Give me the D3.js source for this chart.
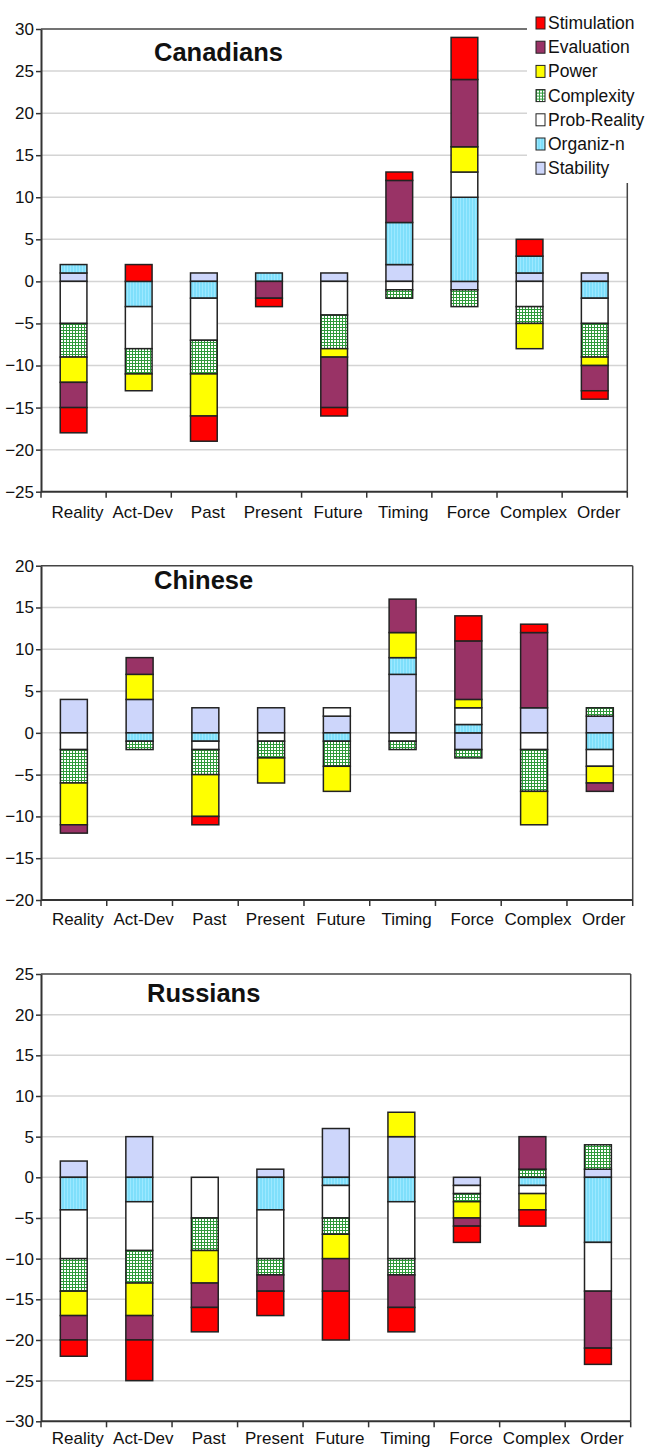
<!DOCTYPE html>
<html>
<head>
<meta charset="utf-8">
<script src="https://cdn.jsdelivr.net/npm/d3@7"></script>
<style>
  body { margin: 0; background: #fff; }
  svg { display: block; font-family: "Liberation Sans", Arial, sans-serif; }
</style>
</head>
<body>
<div id="chart"></div>
<script>
const categories = ["Reality", "Act-Dev", "Past", "Present", "Future", "Timing", "Force", "Complex", "Order"];

// stacking order, closest to zero first (legend lists them reversed)
const seriesNames = ["Stability", "Organiz-n", "Prob-Reality", "Complexity", "Power", "Evaluation", "Stimulation"];

const canadians = {
    "Stimulation":  [-3, 2, -3, -1, -1, 1, 5, 2, -1],
    "Evaluation":   [-3, 0, 0, -2, -6, 5, 8, 0, -3],
    "Power":        [-3, -2, -5, 0, -1, 0, 3, -3, -1],
    "Complexity":   [-4, -3, -4, 0, -4, -1, -2, -2, -4],
    "Prob-Reality": [-5, -5, -5, 0, -4, -1, 3, -3, -3],
    "Organiz-n":    [1, -3, -2, 1, 0, 5, 10, 2, -2],
    "Stability":    [1, 0, 1, 0, 1, 2, -1, 1, 1]
};

const chinese = {
    "Stimulation":  [0, 0, -1, 0, 0, 0, 3, 1, 0],
    "Evaluation":   [-1, 2, 0, 0, 0, 4, 7, 9, -1],
    "Power":        [-5, 3, -5, -3, -3, 3, 1, -4, -2],
    "Complexity":   [-4, -1, -3, -2, -3, -1, -1, -5, 1],
    "Prob-Reality": [-2, 0, -1, -1, 1, -1, 2, -2, -2],
    "Organiz-n":    [0, -1, -1, 0, -1, 2, 1, 0, -2],
    "Stability":    [4, 4, 3, 3, 2, 7, -2, 3, 2]
};

const russians = {
    "Stimulation":  [-2, -5, -3, -3, -6, -3, -2, -2, -2],
    "Evaluation":   [-3, -3, -3, -2, -4, -4, -1, 4, -7],
    "Power":        [-3, -4, -4, 0, -3, 3, -2, -2, 0],
    "Complexity":   [-4, -4, -4, -2, -2, -2, -1, 1, 3],
    "Prob-Reality": [-6, -6, -5, -6, -4, -7, -1, -1, -6],
    "Organiz-n":    [-4, -3, 0, -4, -1, -3, 0, -1, -8],
    "Stability":    [2, 5, 0, 1, 6, 5, -1, 0, 1]
};

const canTicks = [30, 25, 20, 15, 10, 5, 0, -5, -10, -15, -20, -25];
const chiTicks = [20, 15, 10, 5, 0, -5, -10, -15, -20];
const rusTicks = [25, 20, 15, 10, 5, 0, -5, -10, -15, -20, -25, -30];

const colors = {
    "Stimulation": "#ff0000",
    "Evaluation": "#993366",
    "Power": "#ffff00",
    "Complexity": "url(#complexity)",
    "Prob-Reality": "#ffffff",
    "Organiz-n": "url(#organiz)",
    "Stability": "#cdd6fb"
};

const svgWidth = 649;
const svgHeight = 1448;

const svg = d3.select("#chart")
    .append("svg")
    .attr("width", svgWidth)
    .attr("height", svgHeight);

const defs = svg.append("defs");

const cPat = defs.append("pattern")
    .attr("id", "complexity")
    .attr("patternUnits", "userSpaceOnUse")
    .attr("width", 3)
    .attr("height", 3);
cPat.append("rect").attr("width", 3).attr("height", 3).attr("fill", "#ffffff");
cPat.append("path")
    .attr("d", "M0 0.5H3M0.5 0V3")
    .attr("stroke", "#2f9a3a")
    .attr("stroke-width", 1);

const oPat = defs.append("pattern")
    .attr("id", "organiz")
    .attr("patternUnits", "userSpaceOnUse")
    .attr("width", 3)
    .attr("height", 3);
oPat.append("rect").attr("width", 3).attr("height", 3).attr("fill", "#7fdffb");
oPat.append("rect").attr("x", 1).attr("width", 1).attr("height", 3).attr("fill", "#9ce8ff");

const panels = [
    { title: "Canadians", data: canadians, ticks: canTicks, top: 29, bottom: 491.7, right: 627.3, titleX: 154, titleY: 61, labelDy: 26 },
    { title: "Chinese", data: chinese, ticks: chiTicks, top: 565.7, bottom: 900, right: 632.7, titleX: 154, titleY: 589, labelDy: 25 },
    { title: "Russians", data: russians, ticks: rusTicks, top: 974, bottom: 1421.3, right: 630.7, titleX: 147, titleY: 1002, labelDy: 22.5 }
];

const left = 41;

panels.forEach((p, pi) => {
    const g = svg.append("g");

    const x = d3.scaleBand()
        .domain(categories)
        .range([left, p.right])
        .padding(0);

    const y = d3.scaleLinear()
        .domain([d3.min(p.ticks), d3.max(p.ticks)])
        .range([p.bottom, p.top]);

    // gridlines
    g.append("g")
        .selectAll("line")
        .data(p.ticks.filter(t => t !== d3.max(p.ticks) && t !== d3.min(p.ticks)))
        .enter()
        .append("line")
        .attr("x1", left)
        .attr("x2", p.right)
        .attr("y1", d => y(d))
        .attr("y2", d => y(d))
        .attr("stroke", "#d4d4d4")
        .attr("stroke-width", 1.5);

    // frame top + right
    g.append("line")
        .attr("x1", left).attr("x2", p.right)
        .attr("y1", p.top).attr("y2", p.top)
        .attr("stroke", "#444").attr("stroke-width", 1.5);
    g.append("line")
        .attr("x1", p.right).attr("x2", p.right)
        .attr("y1", p.top).attr("y2", p.bottom)
        .attr("stroke", "#444").attr("stroke-width", 1.5);

    // stacked bars
    const rows = categories.map((c, i) => {
        const r = { cat: c };
        seriesNames.forEach(s => { r[s] = p.data[s][i]; });
        return r;
    });

    const stacked = d3.stack()
        .keys(seriesNames)
        .offset(d3.stackOffsetDiverging)(rows);

    const barW = x.bandwidth() * 0.41;

    g.append("g")
        .selectAll("g")
        .data(stacked)
        .enter()
        .append("g")
        .attr("fill", d => colors[d.key])
        .selectAll("rect")
        .data(d => d.filter(v => v[1] !== v[0]))
        .enter()
        .append("rect")
        .attr("x", d => x(d.data.cat) + (x.bandwidth() - barW) / 2)
        .attr("y", d => y(Math.max(d[0], d[1])))
        .attr("width", barW)
        .attr("height", d => Math.abs(y(d[0]) - y(d[1])))
        .attr("stroke", "#222")
        .attr("stroke-width", 1.5);

    // y axis
    const yAxis = g.append("g")
        .attr("transform", `translate(${left},0)`)
        .call(d3.axisLeft(y).tickValues(p.ticks).tickSize(5).tickSizeOuter(0).tickPadding(2).tickFormat(d3.format("d")));
    yAxis.select(".domain").attr("stroke", "#333").attr("stroke-width", 2);
    yAxis.selectAll(".tick line").attr("stroke", "#333").attr("stroke-width", 1.5);
    yAxis.selectAll(".tick text")
        .style("font-size", "17px")
        .attr("fill", "#111");

    // x axis: baseline, boundary ticks, labels
    g.append("line")
        .attr("x1", left).attr("x2", p.right)
        .attr("y1", p.bottom).attr("y2", p.bottom)
        .attr("stroke", "#333").attr("stroke-width", 2);

    const bounds = categories.map(c => x(c)).concat([p.right]);
    g.append("g")
        .selectAll("line")
        .data(bounds)
        .enter()
        .append("line")
        .attr("x1", d => d).attr("x2", d => d)
        .attr("y1", p.bottom).attr("y2", p.bottom + 6)
        .attr("stroke", "#333").attr("stroke-width", 1.5);

    g.append("g")
        .selectAll("text")
        .data(categories)
        .enter()
        .append("text")
        .attr("x", d => x(d) + x.bandwidth() / 2 + 4)
        .attr("y", p.bottom + p.labelDy)
        .attr("text-anchor", "middle")
        .style("font-size", "17px")
        .attr("fill", "#111")
        .text(d => d);

    // title
    g.append("text")
        .attr("x", p.titleX)
        .attr("y", p.titleY)
        .style("font-size", "25.5px")
        .style("font-weight", "bold")
        .attr("fill", "#111")
        .text(p.title);

    // legend only on first panel
    if (pi === 0) {
        const lg = svg.append("g");
        lg.append("rect")
            .attr("x", 527)
            .attr("y", 0)
            .attr("width", svgWidth - 527)
            .attr("height", 183)
            .attr("fill", "#fff");

        const items = seriesNames.slice().reverse();
        const row = lg.selectAll("g.item")
            .data(items)
            .enter()
            .append("g")
            .attr("class", "item")
            .attr("transform", (d, i) => `translate(536, ${23 + i * 24.2})`);

        row.append("rect")
            .attr("x", 0)
            .attr("y", -6)
            .attr("width", 9)
            .attr("height", 12)
            .attr("fill", d => colors[d])
            .attr("stroke", "#222")
            .attr("stroke-width", 1);

        row.append("text")
            .attr("x", 12)
            .attr("y", 6)
            .style("font-size", "17.5px")
            .attr("fill", "#111")
            .text(d => d);
    }
});
</script>
</body>
</html>
